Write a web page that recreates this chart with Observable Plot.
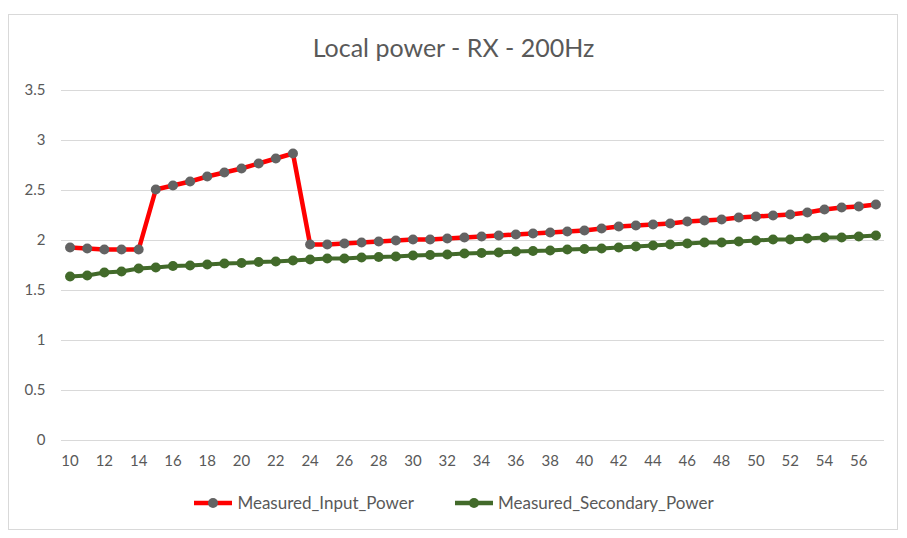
<!DOCTYPE html>
<html>
<head>
<meta charset="utf-8">
<script src="https://cdn.jsdelivr.net/npm/d3@7"></script>
<script src="https://cdn.jsdelivr.net/npm/@observablehq/plot@0.6"></script>
<style>
  html, body { margin: 0; padding: 0; background: #fff; }
  #wrap { position: relative; width: 907px; height: 538px; font-family: Lato, "Open Sans", sans-serif; color: #595959; overflow: hidden; }
  #frame { position: absolute; left: 8px; top: 14px; width: 890px; height: 516px; border: 1px solid #d9d9d9; box-sizing: border-box; }
  #title { position: absolute; left: 0; width: 907px; top: 32px; text-align: center; font-size: 25px; color: #595959; }
  #chart { position: absolute; left: 0; top: 70px; }
  #legend { position: absolute; left: 0; width: 907px; top: 492px; display: flex; justify-content: center; gap: 40px; font-size: 17px; color: #595959; }
  .item { display: flex; align-items: center; gap: 4px; }
</style>
</head>
<body>
<div id="wrap">
  <div id="frame"></div>
  <div id="title">Local power - RX - 200Hz</div>
  <div id="chart"></div>
  <div id="legend"></div>
</div>
<script>
const channels = d3.range(10, 58);
const inputPower = [1.93, 1.92, 1.91, 1.91, 1.91, 2.51, 2.55, 2.59, 2.64, 2.68,
  2.72, 2.77, 2.82, 2.87, 1.96, 1.96, 1.97, 1.98, 1.99, 2.00,
  2.01, 2.01, 2.02, 2.03, 2.04, 2.05, 2.06, 2.07, 2.08, 2.09,
  2.10, 2.12, 2.14, 2.15, 2.16, 2.17, 2.19, 2.20, 2.21, 2.23,
  2.24, 2.25, 2.26, 2.28, 2.31, 2.33, 2.34, 2.36];
const secondaryPower = [1.64, 1.65, 1.68, 1.69, 1.72, 1.73, 1.745, 1.75, 1.76, 1.77,
  1.775, 1.785, 1.79, 1.80, 1.81, 1.82, 1.82, 1.83, 1.835, 1.84,
  1.85, 1.855, 1.86, 1.87, 1.875, 1.88, 1.89, 1.895, 1.90, 1.91,
  1.915, 1.92, 1.93, 1.94, 1.95, 1.96, 1.97, 1.98, 1.98, 1.99,
  2.00, 2.01, 2.01, 2.02, 2.03, 2.03, 2.04, 2.05];
const xTicks = d3.range(10, 57, 2);
const yTicks = [0, 0.5, 1, 1.5, 2, 2.5, 3, 3.5];
const seriesNames = ["Measured_Input_Power", "Measured_Secondary_Power"];

const inputData = channels.map((c, i) => ({c, v: inputPower[i]}));
const secData = channels.map((c, i) => ({c, v: secondaryPower[i]}));

const red = "#ff0000", gray = "#636363", green = "#426a2a";

const chart = Plot.plot({
  width: 907,
  height: 410,
  marginTop: 20,
  marginBottom: 40,
  marginLeft: 61,
  marginRight: 23,
  style: {fontFamily: "Lato, 'Open Sans', sans-serif", fontSize: "15px", color: "#595959", background: "transparent"},
  x: {type: "point", domain: channels, padding: 0.5, round: false, ticks: xTicks, tickSize: 0, tickPadding: 15, label: null},
  y: {domain: [0, 3.5], ticks: yTicks, tickSize: 0, tickPadding: 16, tickFormat: d => String(d), label: null},
  marks: [
    Plot.ruleY(yTicks, {stroke: "#d9d9d9", strokeWidth: 1.2}),
    Plot.line(secData, {x: "c", y: "v", stroke: green, strokeWidth: 4}),
    Plot.dot(secData, {x: "c", y: "v", fill: green, r: 5}),
    Plot.line(inputData, {x: "c", y: "v", stroke: red, strokeWidth: 4.5}),
    Plot.dot(inputData, {x: "c", y: "v", fill: gray, r: 5})
  ]
});
document.getElementById("chart").appendChild(chart);

const legend = document.getElementById("legend");
[[seriesNames[0], red, gray], [seriesNames[1], green, green]].forEach(([name, line, dot]) => {
  const el = document.createElement("div");
  el.className = "item";
  el.innerHTML = `<svg width="40" height="14"><line x1="1" x2="39" y1="7" y2="7" stroke="${line}" stroke-width="4.5"/><circle cx="20" cy="7" r="5" fill="${dot}"/></svg><span>${name}</span>`;
  legend.appendChild(el);
});
</script>
</body>
</html>
